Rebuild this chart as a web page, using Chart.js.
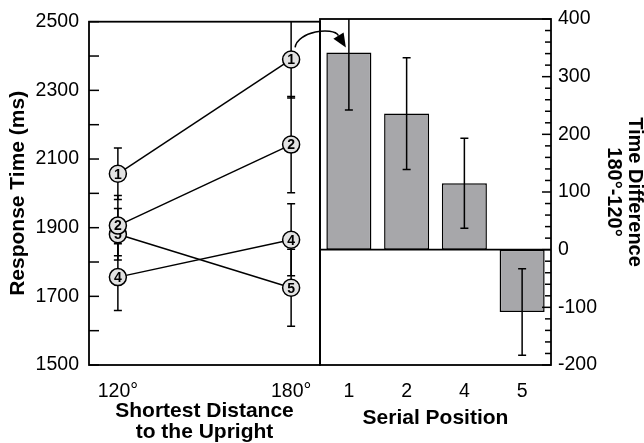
<!DOCTYPE html>
<html>
<head>
<meta charset="UTF-8">
<title>Response time by distance and serial position</title>
<script src="https://cdn.jsdelivr.net/npm/chart.js"></script>
<style>
  body { margin: 0; background: #fff; }
  #wrap { position: relative; width: 644px; height: 443px; }
  canvas { position: absolute; left: 0; top: 0; }
</style>
</head>
<body>
<div id="wrap">
  <canvas id="left" width="644" height="443"></canvas>
  <canvas id="right" width="644" height="443"></canvas>
</div>
<script>
// left panel: response time (ms) at 120 and 180 degrees, one line per serial position
const angles = [120, 180];
const rt1 = [2057, 2390], err1 = [75, 112];
const rt2 = [1906, 2142], err2 = [88, 140];
const rt4 = [1756, 1865], err4 = [97, 105];
const rt5 = [1881, 1725], err5 = [75, 112];

// right panel: time difference 180 - 120 per serial position
const positions = ['1', '2', '4', '5'];
const diff = [342, 236, 115, -108];
const diffErr = [100, 97, 78, 75];

const FONT = "'Liberation Sans', Arial, sans-serif";
Chart.defaults.font.family = FONT;
Chart.defaults.color = '#000';
Chart.defaults.animation = false;

const series = [
  { name: '1', rt: rt1, err: err1 },
  { name: '2', rt: rt2, err: err2 },
  { name: '4', rt: rt4, err: err4 },
  { name: '5', rt: rt5, err: err5 }
];

function frame(chart, ctx) {
  const a = chart.chartArea;
  ctx.save();
  ctx.strokeStyle = '#000';
  ctx.lineWidth = 1.8;
  ctx.strokeRect(a.left, a.top, a.right - a.left, a.bottom - a.top);
  ctx.restore();
}

function errBar(ctx, x, y1, y2, cap) {
  ctx.beginPath();
  ctx.moveTo(x, y1); ctx.lineTo(x, y2);
  ctx.moveTo(x - cap, y1); ctx.lineTo(x + cap, y1);
  ctx.moveTo(x - cap, y2); ctx.lineTo(x + cap, y2);
  ctx.stroke();
}

const leftPlugin = {
  id: 'leftDeco',
  beforeDatasetsDraw(chart) {
    const ctx = chart.ctx, a = chart.chartArea;
    const xs = chart.scales.x, ys = chart.scales.y;
    ctx.save();
    ctx.beginPath(); ctx.rect(a.left, a.top, a.right - a.left, a.bottom - a.top); ctx.clip();
    ctx.strokeStyle = '#000'; ctx.lineWidth = 1.5;
    series.forEach(s => {
      angles.forEach((ang, j) => {
        errBar(ctx, xs.getPixelForValue(ang), ys.getPixelForValue(s.rt[j] + s.err[j]),
               ys.getPixelForValue(s.rt[j] - s.err[j]), 4);
      });
    });
    ctx.restore();
  },
  afterDatasetDraw(chart, args) {
    const ctx = chart.ctx;
    const name = series[args.index].name;
    ctx.save();
    ctx.fillStyle = '#000';
    ctx.font = 'bold 14px ' + FONT;
    ctx.textAlign = 'center'; ctx.textBaseline = 'middle';
    args.meta.data.forEach(p => ctx.fillText(name, p.x, p.y + 1));
    ctx.restore();
  },
  afterDraw(chart) {
    const ctx = chart.ctx, a = chart.chartArea, ys = chart.scales.y;
    frame(chart, ctx);
    ctx.save();
    ctx.strokeStyle = '#000'; ctx.lineWidth = 1.5;
    ys.ticks.forEach(t => {
      const y = ys.getPixelForValue(t.value);
      ctx.beginPath(); ctx.moveTo(a.left, y); ctx.lineTo(a.left + 10, y); ctx.stroke();
    });
    ctx.restore();
  }
};

const leftChart = new Chart(document.getElementById('left'), {
  type: 'line',
  data: {
    datasets: series.map(s => ({
      label: s.name,
      data: angles.map((ang, i) => ({ x: ang, y: s.rt[i] })),
      borderColor: '#000',
      borderWidth: 1.5,
      pointRadius: 8.5,
      pointHoverRadius: 8.5,
      pointBackgroundColor: '#e2e2e2',
      pointBorderColor: '#000',
      pointBorderWidth: 1.5,
      tension: 0
    }))
  },
  options: {
    responsive: false,
    events: [],
    layout: { padding: { top: 19, right: 324, left: 0, bottom: 0 } },
    plugins: { legend: { display: false }, tooltip: { enabled: false } },
    scales: {
      x: {
        type: 'linear', min: 110, max: 190,
        afterBuildTicks: s => { s.ticks = angles.map(v => ({ value: v })); },
        afterFit: s => { s.height = 78; },
        grid: { display: false, drawTicks: false },
        border: { display: false },
        ticks: { padding: 15, font: { size: 19.5 }, callback: v => v + '°' },
        title: {
          display: true, text: ['Shortest Distance', 'to the Upright'],
          font: { size: 21, weight: 'bold', lineHeight: 1 },
          padding: { top: 0, bottom: 0.5 }
        }
      },
      y: {
        min: 1500, max: 2500,
        afterFit: s => { s.width = 89; },
        grid: { display: false, drawTicks: false },
        border: { display: false },
        ticks: {
          stepSize: 100, autoSkip: false, padding: 10, font: { size: 19.5 },
          callback: v => (Math.round(v) - 1500) % 200 === 0 ? v : ''
        },
        title: {
          display: true, text: 'Response Time (ms)',
          font: { size: 21, weight: 'bold', lineHeight: 1.2 },
          padding: { top: 6, bottom: 0 }
        }
      }
    }
  },
  plugins: [leftPlugin]
});

const rightPlugin = {
  id: 'rightDeco',
  afterDatasetsDraw(chart) {
    const ctx = chart.ctx, a = chart.chartArea, ys = chart.scales.y;
    const bars = chart.getDatasetMeta(0).data;
    ctx.save();
    ctx.beginPath(); ctx.rect(a.left, a.top, a.right - a.left, a.bottom - a.top); ctx.clip();
    ctx.strokeStyle = '#000'; ctx.lineWidth = 1.5;
    bars.forEach((b, i) => {
      errBar(ctx, b.x, ys.getPixelForValue(diff[i] + diffErr[i]), ys.getPixelForValue(diff[i] - diffErr[i]), 4);
    });
    ctx.restore();
  },
  afterDraw(chart) {
    const ctx = chart.ctx, a = chart.chartArea, ys = chart.scales.y;
    frame(chart, ctx);
    ctx.save();
    ctx.strokeStyle = '#000';
    // zero line
    ctx.lineWidth = 1.8;
    const y0 = ys.getPixelForValue(0);
    ctx.beginPath(); ctx.moveTo(a.left, y0); ctx.lineTo(a.right, y0); ctx.stroke();
    // inside tick marks
    ctx.lineWidth = 1.5;
    ys.ticks.forEach(t => {
      const y = ys.getPixelForValue(t.value);
      const len = Math.round(t.value) % 100 === 0 ? 9 : 6;
      ctx.beginPath(); ctx.moveTo(a.right - len, y); ctx.lineTo(a.right, y); ctx.stroke();
    });
    // curved arrow from series 1 at 180 degrees to the first bar
    const p = leftChart.getDatasetMeta(0).data[1];
    const b = chart.getDatasetMeta(0).data[0];
    const sx = p.x + 4, sy = p.y - 12;
    const ex = b.x - 3, ey = b.y - 5;
    const c1x = sx + 2, c1y = sy - 16, c2x = ex - 13, c2y = ey - 21;
    const ang = Math.atan2(ey - c2y, ex - c2x);
    const hl = 14, hw = 6;
    const bx = ex - hl * Math.cos(ang), by = ey - hl * Math.sin(ang);
    ctx.lineWidth = 1.5;
    ctx.beginPath();
    ctx.moveTo(sx, sy);
    ctx.bezierCurveTo(c1x, c1y, c2x, c2y, bx, by);
    ctx.stroke();
    ctx.fillStyle = '#000';
    ctx.beginPath();
    ctx.moveTo(ex, ey);
    ctx.lineTo(bx + hw * Math.sin(ang), by - hw * Math.cos(ang));
    ctx.lineTo(bx - hw * Math.sin(ang), by + hw * Math.cos(ang));
    ctx.closePath();
    ctx.fill();
    ctx.restore();
  }
};

new Chart(document.getElementById('right'), {
  type: 'bar',
  data: {
    labels: positions,
    datasets: [{
      data: diff,
      backgroundColor: '#a7a7aa',
      borderColor: '#000',
      borderWidth: 1.5,
      borderSkipped: false,
      categoryPercentage: 1,
      barPercentage: 0.78
    }]
  },
  options: {
    responsive: false,
    events: [],
    layout: { padding: { top: 19, left: 320, right: 0, bottom: 0 } },
    plugins: { legend: { display: false }, tooltip: { enabled: false } },
    scales: {
      x: {
        afterFit: s => { s.height = 78; },
        grid: { display: false, drawTicks: false },
        border: { display: false },
        ticks: { padding: 15, font: { size: 19.5 } },
        title: {
          display: true, text: 'Serial Position',
          font: { size: 21, weight: 'bold', lineHeight: 1 },
          padding: { top: 0, bottom: 14.5 }
        }
      },
      y: {
        position: 'right', min: -200, max: 400,
        afterFit: s => { s.width = 93; },
        grid: { display: false, drawTicks: false },
        border: { display: false },
        ticks: {
          stepSize: 20, autoSkip: false, padding: 7, font: { size: 19.5 },
          callback: v => Math.round(v) % 100 === 0 ? v : ''
        },
        title: {
          display: true, text: ['Time Difference', '180°-120°'],
          font: { size: 20, weight: 'bold', lineHeight: 1.05 },
          padding: { top: -1.5, bottom: 0 }
        }
      }
    }
  },
  plugins: [rightPlugin]
});
</script>
</body>
</html>
